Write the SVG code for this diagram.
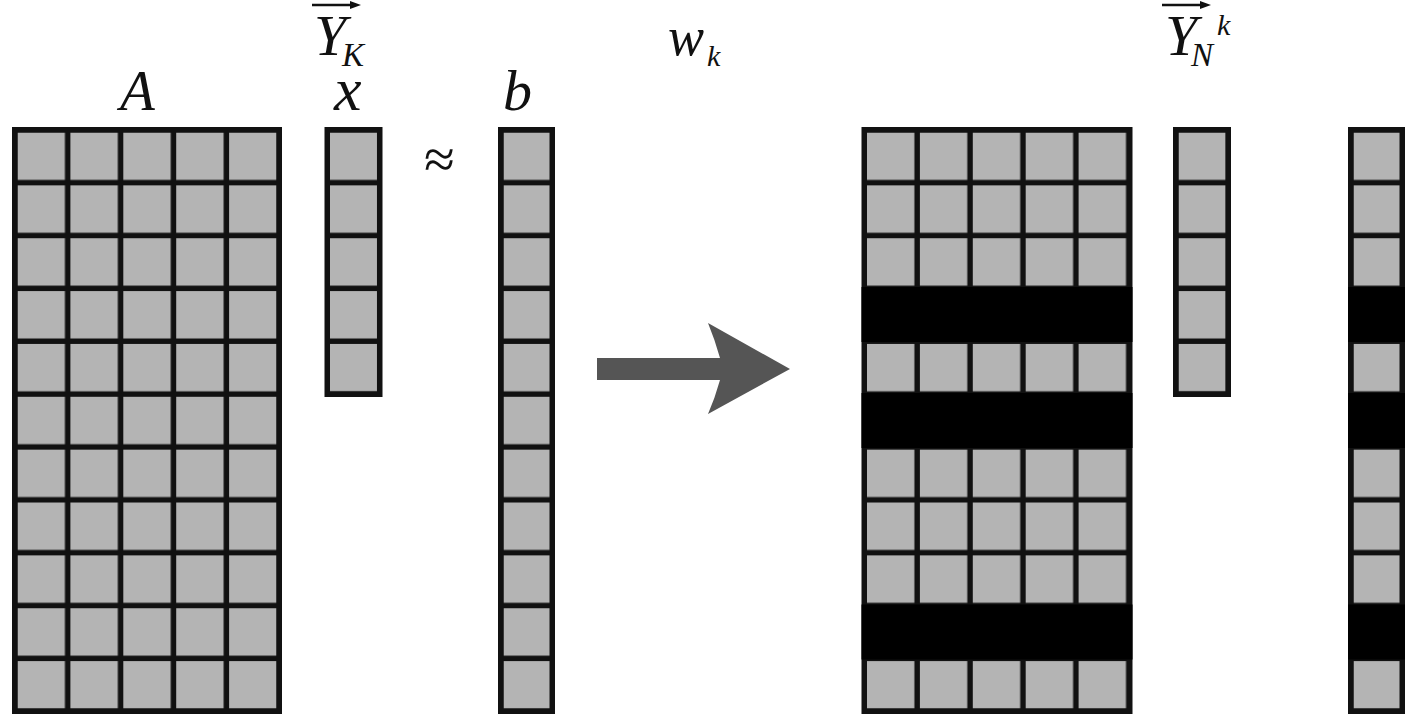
<svg xmlns="http://www.w3.org/2000/svg" width="1417" height="724" viewBox="0 0 1417 724">
<defs>
<pattern id="cellpat" patternUnits="userSpaceOnUse" x="0" y="0" width="52.9" height="52.86">
<rect x="0" y="0" width="47.4" height="47.4" fill="#b4b4b4"/>
</pattern>
</defs>
<rect width="1417" height="724" fill="#ffffff"/>

<g id="matrixA">
<rect fill="#111111" x="12" y="127" width="270" height="587"/>
<g transform="translate(17.5,132.5)"><rect fill="url(#cellpat)" x="0" y="0" width="259" height="576"/></g>
</g>

<g id="vectorX">
<rect fill="#111111" x="324.5" y="127" width="58" height="270"/>
<g transform="translate(330,132.5)"><rect fill="url(#cellpat)" x="0" y="0" width="47" height="259"/></g>
</g>

<g id="vectorB">
<rect fill="#111111" x="498" y="127" width="57" height="587"/>
<g transform="translate(503.5,132.5)"><rect fill="url(#cellpat)" x="0" y="0" width="46" height="576"/></g>
</g>

<g id="matrixW">
<rect fill="#111111" x="861.5" y="127" width="271" height="587"/>
<g transform="translate(867,132.5)"><rect fill="url(#cellpat)" x="0" y="0" width="260" height="576"/></g>
<rect fill="#000000" x="861.5" y="287" width="271" height="55"/>
<rect fill="#000000" x="861.5" y="393" width="271" height="55"/>
<rect fill="#000000" x="861.5" y="604.5" width="271" height="55"/>
</g>

<g id="vectorYN">
<rect fill="#111111" x="1173" y="127" width="58" height="270"/>
<g transform="translate(1178.5,132.5)"><rect fill="url(#cellpat)" x="0" y="0" width="47" height="259"/></g>
</g>

<g id="vectorBw">
<rect fill="#111111" x="1348" y="127" width="57" height="587"/>
<g transform="translate(1353.5,132.5)"><rect fill="url(#cellpat)" x="0" y="0" width="46" height="576"/></g>
<rect fill="#000000" x="1348" y="287" width="57" height="55"/>
<rect fill="#000000" x="1348" y="393" width="57" height="55"/>
<rect fill="#000000" x="1348" y="604.5" width="57" height="55"/>
</g>

<g id="connectors">
<path id="bigArrow" d="M597,358 L720,358 Q715,340 708,323 L790,369 L708,414 Q715,398 720,380 L597,380 Z" fill="#555555"/>
</g>

<text x="120" y="110" font-size="57" font-family="'Liberation Serif', 'Times New Roman', serif" font-style="italic" fill="#111111">A</text>
<text x="334" y="110" font-size="62" font-family="'Liberation Serif', 'Times New Roman', serif" font-style="italic" fill="#111111">x</text>
<text x="503" y="110" font-size="58" font-family="'Liberation Serif', 'Times New Roman', serif" font-style="italic" fill="#111111">b</text>
<text x="424" y="178" font-size="56" font-family="'Liberation Serif', 'Times New Roman', serif" fill="#111111">≈</text>
<line x1="312" y1="5" x2="352" y2="5" stroke="#111111" stroke-width="2.5"/>
<path d="M350,1 L361,5 L350,9 Z" fill="#111111"/>
<text x="314" y="55" font-size="58" font-family="'Liberation Serif', 'Times New Roman', serif" font-style="italic" fill="#111111">Y</text>
<text x="342" y="66" font-size="33" font-family="'Liberation Serif', 'Times New Roman', serif" font-style="italic" fill="#111111">K</text>
<text x="668" y="55" font-size="54" font-family="'Liberation Serif', 'Times New Roman', serif" font-style="italic" fill="#111111">w</text>
<text x="707" y="66" font-size="30" font-family="'Liberation Serif', 'Times New Roman', serif" font-style="italic" fill="#111111">k</text>
<line x1="1162" y1="5" x2="1202" y2="5" stroke="#111111" stroke-width="2.5"/>
<path d="M1200,1 L1211,5 L1200,9 Z" fill="#111111"/>
<text x="1165" y="55" font-size="58" font-family="'Liberation Serif', 'Times New Roman', serif" font-style="italic" fill="#111111">Y</text>
<text x="1191" y="66" font-size="33" font-family="'Liberation Serif', 'Times New Roman', serif" font-style="italic" fill="#111111">N</text>
<text x="1217" y="35" font-size="30" font-family="'Liberation Serif', 'Times New Roman', serif" font-style="italic" fill="#111111">k</text>
</svg>
